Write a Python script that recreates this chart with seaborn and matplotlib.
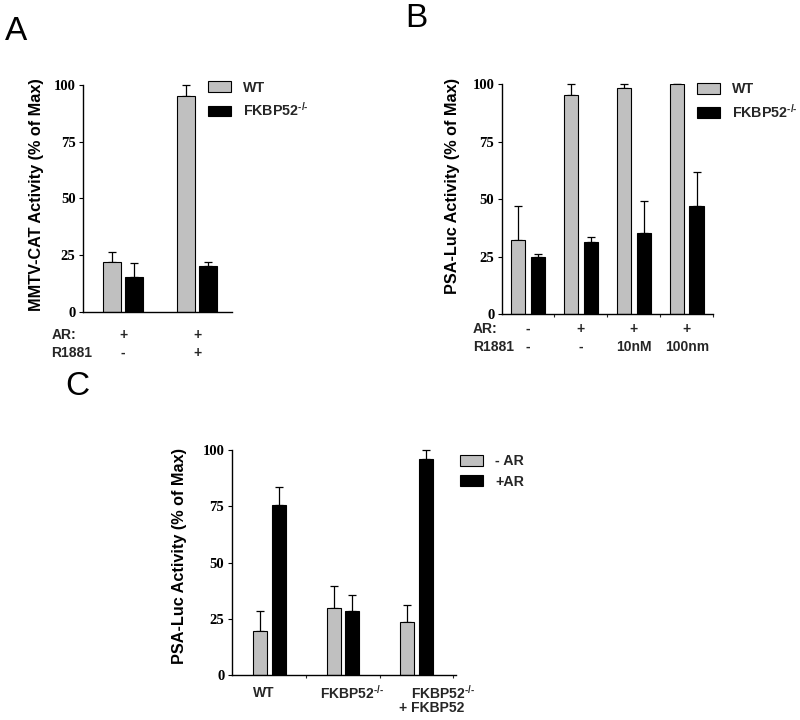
import matplotlib
matplotlib.use("Agg")
import matplotlib.pyplot as plt
import seaborn as sns
import pandas as pd
from matplotlib.patches import Patch

sns.set_theme(style="white")
plt.rcParams['font.family'] = ['Liberation Sans', 'DejaVu Sans']
plt.rcParams['mathtext.fontset'] = 'custom'
plt.rcParams['mathtext.rm'] = 'Liberation Sans:bold'
plt.rcParams['mathtext.default'] = 'regular'

KO = r'FKBP52$^{\text{-/-}}$'

# panel A: MMTV-CAT
a_groups = ['AR+/R1881-', 'AR+/R1881+']
a_wt = [22.0, 95.1]
a_wt_err = [4.2, 4.7]
a_ko = [15.4, 20.1]
a_ko_err = [5.9, 1.8]
a_ar = ['+', '+']
a_r1881 = ['-', '+']

# panel B: PSA-Luc, hormone dose
b_groups = ['AR-/R1881-', 'AR+/R1881-', 'AR+/10nM', 'AR+/100nm']
b_wt = [32.3, 95.4, 98.3, 100.0]
b_wt_err = [14.9, 4.6, 1.7, 0.0]
b_ko = [24.6, 31.3, 35.2, 47.2]
b_ko_err = [1.5, 2.0, 13.8, 14.5]
b_ar = ['-', '+', '+', '+']
b_r1881 = ['-', '-', '10nM', '100nm']

# panel C: PSA-Luc, rescue
c_groups = ['WT', 'FKBP52-/-', 'FKBP52-/- + FKBP52']
c_minus = [19.6, 29.6, 23.4]
c_minus_err = [9.0, 10.0, 7.6]
c_plus = [75.6, 28.6, 96.0]
c_plus_err = [8.0, 7.0, 4.0]

GREY = '#c0c0c0'
TICKFONT = dict(family='Liberation Serif', weight='bold', size=10.5)


def bar_panel(ax, groups, s1, e1, s2, e2, names, width, gap, ylabel):
    n = len(groups)
    df = pd.DataFrame({
        'group': groups * 2,
        'series': [names[0]] * n + [names[1]] * n,
        'value': s1 + s2,
    })
    sns.barplot(data=df, x='group', y='value', hue='series', order=groups,
                hue_order=names, palette=[GREY, 'black'], width=width, gap=gap,
                edgecolor='black', linewidth=0.8, errorbar=None, legend=False,
                saturation=1, ax=ax)
    # upward-only error bars on top of each bar
    bars = sorted(ax.patches, key=lambda p: p.get_x())
    errs = [e for pair in zip(e1, e2) for e in pair]
    xs = [p.get_x() + p.get_width() / 2 for p in bars]
    hs = [p.get_height() for p in bars]
    eb = ax.errorbar(xs, hs, yerr=[[0] * len(errs), errs], fmt='none',
                     ecolor='black', elinewidth=0.9, capsize=3, capthick=0.9,
                     zorder=0.8)
    for art in eb.get_children():
        art.set_clip_on(False)

    ax.set_ylim(0, 100)
    ax.set_yticks([0, 25, 50, 75, 100])
    ax.set_yticklabels(['0', '25', '50', '75', '100'], fontdict=TICKFONT)
    ax.set_xlabel('')
    ax.set_ylabel(ylabel, fontsize=11.7, fontweight='bold', color='black')
    sns.despine(ax=ax)
    for s in ['left', 'bottom']:
        ax.spines[s].set_color('black')
        ax.spines[s].set_linewidth(1.0)
    ax.tick_params(axis='y', direction='out', length=3, width=0.8, pad=2.5,
                   colors='black', left=True)
    ax.tick_params(axis='x', direction='out', length=2, width=0.8,
                   bottom=True, labelbottom=False)


def legend_at(ax, fig, names, x, y):
    handles = [Patch(facecolor=GREY, edgecolor='black', linewidth=0.8),
               Patch(facecolor='black', edgecolor='black', linewidth=0.8)]
    ax.legend(handles, names, loc='upper left', bbox_to_anchor=(x, y),
              bbox_transform=fig.transFigure, frameon=False, borderpad=0,
              borderaxespad=0, handlelength=1.6, handleheight=0.8,
              handletextpad=0.85, labelspacing=0.45,
              prop=dict(family='Liberation Sans', weight='bold', size=10.3))


def row_labels(ax, rows, dy_list, x_off):
    # condition rows drawn under the x-axis
    for (title, vals), dy in zip(rows, dy_list):
        ax.annotate(title, xy=(0, 0), xycoords='axes fraction',
                    xytext=(x_off, dy), textcoords='offset points',
                    ha='left', va='center', fontsize=10, fontweight='bold')
        for i, v in enumerate(vals):
            ax.annotate(v, xy=(i, 0), xycoords=('data', 'axes fraction'),
                        xytext=(0, dy), textcoords='offset points',
                        ha='center', va='center', fontsize=10, fontweight='bold')


fig = plt.figure(figsize=(8, 7.2), dpi=100)

# A
axA = fig.add_axes([0.104, 0.567, 0.186, 0.315])
bar_panel(axA, a_groups, a_wt, a_wt_err, a_ko, a_ko_err, ['WT', KO],
          0.6, 0.18, 'MMTV-CAT Activity (% of Max)')
axA.set_xlim(-0.54, 1.47)
axA.set_xticks([])
axA.yaxis.set_label_coords(-0.262, 0.515)
legend_at(axA, fig, ['WT', KO], 0.26, 0.888)
row_labels(axA, [('AR:', a_ar), ('R1881', a_r1881)], [-16.5, -29.5], -23)

# B
axB = fig.add_axes([0.6275, 0.564, 0.264, 0.319])
bar_panel(axB, b_groups, b_wt, b_wt_err, b_ko, b_ko_err, ['WT', KO],
          0.74, 0.28, 'PSA-Luc Activity (% of Max)')
axB.set_xlim(-0.49, 3.5)
axB.set_xticks([0.5, 1.5, 2.5, 3.5])
axB.yaxis.set_label_coords(-0.199, 0.556)
legend_at(axB, fig, ['WT', KO], 0.871, 0.886)
row_labels(axB, [('AR:', b_ar), ('R1881', b_r1881)], [-11, -23.5], -21)

# C
axC = fig.add_axes([0.29, 0.0625, 0.28, 0.3125])
bar_panel(axC, c_groups, c_minus, c_minus_err, c_plus, c_plus_err,
          ['- AR', '+AR'], 0.51, 0.25, 'PSA-Luc Activity (% of Max)')
axC.set_xlim(-0.51, 2.54)
axC.set_xticks([0.5, 1.5, 2.5])
axC.yaxis.set_label_coords(-0.20, 0.53)
legend_at(axC, fig, ['- AR', '+AR'], 0.575, 0.369)
c_label_pos = [(-0.08, -13), (1.12, -13), (2.36, -13), (2.21, -24)]
c_label_txt = ['WT', KO, KO, '+ FKBP52']
for (x, dy), t in zip(c_label_pos, c_label_txt):
    axC.annotate(t, xy=(x, 0), xycoords=('data', 'axes fraction'),
                 xytext=(0, dy), textcoords='offset points',
                 ha='center', va='center', fontsize=10, fontweight='bold')

# panel letters
for letter, x, y in [('A', 0.006, 0.944), ('B', 0.507, 0.9625), ('C', 0.081, 0.451)]:
    fig.text(x, y, letter, fontsize=24, va='baseline', ha='left', color='black')

fig.savefig('out.png', dpi=100)
